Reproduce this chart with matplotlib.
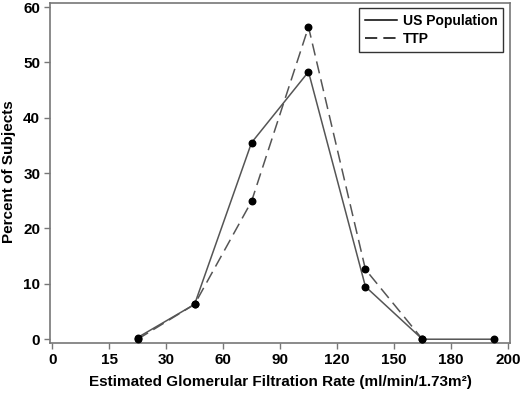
import matplotlib
matplotlib.use("Agg")
import matplotlib.pyplot as plt
import numpy as np

plt.rcParams["font.family"] = ["Liberation Sans", "DejaVu Sans"]
plt.rcParams["font.weight"] = "bold"

tick_vals = [0, 15, 30, 60, 90, 120, 150, 180, 200]
# bin midpoints (eGFR) and percent of subjects
us_egfr = [22.5, 45, 75, 105, 135, 165, 195]
us_pct = [0.3, 6.3, 35.5, 48.3, 9.5, 0.0, 0.0]
ttp_egfr = [22.5, 45, 75, 105, 135, 165]
ttp_pct = [0.0, 6.3, 24.9, 56.4, 12.6, 0.0]

# the original axis puts the uneven tick values at even spacing
def to_axis(v):
    return np.interp(v, tick_vals, np.arange(len(tick_vals)))

us_pos = to_axis(us_egfr)
ttp_pos = to_axis(ttp_egfr)

fig = plt.figure(figsize=(5.2, 3.93), dpi=100)
ax = fig.add_axes([0.096, 0.127, 0.885, 0.865])

line_col = "#555555"
ax.plot(us_pos, us_pct, color=line_col, lw=1.1, ls="-", label="US Population")
ax.plot(ttp_pos, ttp_pct, color=line_col, lw=1.1, ls=(0, (8, 4)), label="TTP")
ax.scatter(us_pos, us_pct, s=22, color="black", zorder=3)
ax.scatter(ttp_pos, ttp_pct, s=22, color="black", zorder=3)

ax.set_xlim(-0.04, 8.04)
ax.set_ylim(-0.7, 60.7)
ax.set_xticks(range(len(tick_vals)))
ax.set_xticklabels([str(v) for v in tick_vals])
ax.set_yticks([0, 10, 20, 30, 40, 50, 60])

for s in ax.spines.values():
    s.set_color("#777777")
    s.set_linewidth(1.2)
ax.tick_params(axis="both", direction="out", length=4, width=1, color="#777777",
               labelsize=11, pad=3)
for lab in ax.get_xticklabels() + ax.get_yticklabels():
    lab.set_fontweight("bold")

ax.set_xlabel("Estimated Glomerular Filtration Rate (ml/min/1.73m²)",
              fontsize=11, fontweight="bold")
ax.set_ylabel("Percent of Subjects", fontsize=11, fontweight="bold")
ax.xaxis.set_label_coords(0.5, -0.094)
ax.yaxis.set_label_coords(-0.074, 0.503)

leg = ax.legend(loc="upper right", frameon=True, fancybox=False,
                prop={"weight": "bold", "size": 10},
                handlelength=2.3, handletextpad=0.45, borderpad=0.4,
                labelspacing=0.3, borderaxespad=0,
                bbox_to_anchor=(0.985, 0.985))
leg.get_frame().set_edgecolor("black")
leg.get_frame().set_linewidth(1.0)
for h in leg.get_lines():
    h.set_color("black")

fig.savefig("out.png", dpi=100)
